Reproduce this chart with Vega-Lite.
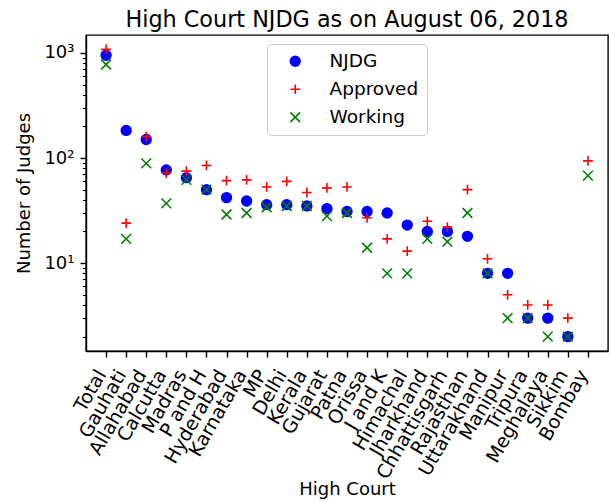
{
  "$schema": "https://vega.github.io/schema/vega-lite/v6.json",
  "width": 522,
  "height": 316,
  "autosize": "none",
  "padding": {"left": 86, "top": 35, "right": 2, "bottom": 151},
  "background": "white",
  "title": {"text": "High Court NJDG as on August 06, 2018", "fontSize": 22.3, "font": "DejaVu Sans", "fontWeight": "normal", "frame": "group", "offset": 4, "anchor": "middle", "color": "black"},
  "config": {
    "view": {"stroke": "black", "strokeWidth": 1.4},
    "font": "DejaVu Sans",
    "axis": {"grid": false, "domainColor": "black", "domainWidth": 1.4, "tickColor": "black", "tickWidth": 1.4, "labelFont": "DejaVu Sans", "labelFontSize": 18, "labelColor": "black", "titleFont": "DejaVu Sans", "titleFontSize": 18, "titleFontWeight": "normal", "titleColor": "black"}
  },
  "data": {"values": [
    {"court": "Total", "series": "NJDG", "judges": 950},
    {"court": "Gauhati", "series": "NJDG", "judges": 183},
    {"court": "Allahabad", "series": "NJDG", "judges": 150},
    {"court": "Calcutta", "series": "NJDG", "judges": 77},
    {"court": "Madras", "series": "NJDG", "judges": 65},
    {"court": "P and H", "series": "NJDG", "judges": 50},
    {"court": "Hyderabad", "series": "NJDG", "judges": 42},
    {"court": "Karnataka", "series": "NJDG", "judges": 39},
    {"court": "MP", "series": "NJDG", "judges": 36},
    {"court": "Delhi", "series": "NJDG", "judges": 36},
    {"court": "Kerala", "series": "NJDG", "judges": 35},
    {"court": "Gujarat", "series": "NJDG", "judges": 33},
    {"court": "Patna", "series": "NJDG", "judges": 31},
    {"court": "Orissa", "series": "NJDG", "judges": 31},
    {"court": "J and K", "series": "NJDG", "judges": 30},
    {"court": "Himachal", "series": "NJDG", "judges": 23},
    {"court": "Jharkhand", "series": "NJDG", "judges": 20},
    {"court": "Chhattisgarh", "series": "NJDG", "judges": 20},
    {"court": "Rajasthan", "series": "NJDG", "judges": 18},
    {"court": "Uttarakhand", "series": "NJDG", "judges": 8},
    {"court": "Manipur", "series": "NJDG", "judges": 8},
    {"court": "Tripura", "series": "NJDG", "judges": 3},
    {"court": "Meghalaya", "series": "NJDG", "judges": 3},
    {"court": "Sikkim", "series": "NJDG", "judges": 2},
    {"court": "Total", "series": "Approved", "judges": 1079},
    {"court": "Gauhati", "series": "Approved", "judges": 24},
    {"court": "Allahabad", "series": "Approved", "judges": 160},
    {"court": "Calcutta", "series": "Approved", "judges": 72},
    {"court": "Madras", "series": "Approved", "judges": 75},
    {"court": "P and H", "series": "Approved", "judges": 85},
    {"court": "Hyderabad", "series": "Approved", "judges": 61},
    {"court": "Karnataka", "series": "Approved", "judges": 62},
    {"court": "MP", "series": "Approved", "judges": 53},
    {"court": "Delhi", "series": "Approved", "judges": 60},
    {"court": "Kerala", "series": "Approved", "judges": 47},
    {"court": "Gujarat", "series": "Approved", "judges": 52},
    {"court": "Patna", "series": "Approved", "judges": 53},
    {"court": "Orissa", "series": "Approved", "judges": 27},
    {"court": "J and K", "series": "Approved", "judges": 17},
    {"court": "Himachal", "series": "Approved", "judges": 13},
    {"court": "Jharkhand", "series": "Approved", "judges": 25},
    {"court": "Chhattisgarh", "series": "Approved", "judges": 22},
    {"court": "Rajasthan", "series": "Approved", "judges": 50},
    {"court": "Uttarakhand", "series": "Approved", "judges": 11},
    {"court": "Manipur", "series": "Approved", "judges": 5},
    {"court": "Tripura", "series": "Approved", "judges": 4},
    {"court": "Meghalaya", "series": "Approved", "judges": 4},
    {"court": "Sikkim", "series": "Approved", "judges": 3},
    {"court": "Bombay", "series": "Approved", "judges": 94},
    {"court": "Total", "series": "Working", "judges": 775},
    {"court": "Gauhati", "series": "Working", "judges": 17},
    {"court": "Allahabad", "series": "Working", "judges": 89},
    {"court": "Calcutta", "series": "Working", "judges": 37},
    {"court": "Madras", "series": "Working", "judges": 62},
    {"court": "P and H", "series": "Working", "judges": 50},
    {"court": "Hyderabad", "series": "Working", "judges": 29},
    {"court": "Karnataka", "series": "Working", "judges": 30},
    {"court": "MP", "series": "Working", "judges": 34},
    {"court": "Delhi", "series": "Working", "judges": 35},
    {"court": "Kerala", "series": "Working", "judges": 35},
    {"court": "Gujarat", "series": "Working", "judges": 28},
    {"court": "Patna", "series": "Working", "judges": 30},
    {"court": "Orissa", "series": "Working", "judges": 14},
    {"court": "J and K", "series": "Working", "judges": 8},
    {"court": "Himachal", "series": "Working", "judges": 8},
    {"court": "Jharkhand", "series": "Working", "judges": 17},
    {"court": "Chhattisgarh", "series": "Working", "judges": 16},
    {"court": "Rajasthan", "series": "Working", "judges": 30},
    {"court": "Uttarakhand", "series": "Working", "judges": 8},
    {"court": "Manipur", "series": "Working", "judges": 3},
    {"court": "Tripura", "series": "Working", "judges": 3},
    {"court": "Meghalaya", "series": "Working", "judges": 2},
    {"court": "Sikkim", "series": "Working", "judges": 2},
    {"court": "Bombay", "series": "Working", "judges": 68}
  ]},
  "mark": {"type": "point", "size": 95, "strokeWidth": 1.6, "opacity": 1},
  "encoding": {
    "x": {
      "field": "court", "type": "nominal", "title": "High Court",
      "scale": {"type": "point", "padding": 1.2, "domain": ["Total", "Gauhati", "Allahabad", "Calcutta", "Madras", "P and H", "Hyderabad", "Karnataka", "MP", "Delhi", "Kerala", "Gujarat", "Patna", "Orissa", "J and K", "Himachal", "Jharkhand", "Chhattisgarh", "Rajasthan", "Uttarakhand", "Manipur", "Tripura", "Meghalaya", "Sikkim", "Bombay"]},
      "axis": {"labelAngle": -60, "labelAlign": "right", "labelBaseline": "middle", "labelPadding": 14, "labelOffset": -5, "labelFontSize": 19, "tickSize": 6, "labelOverlap": false, "labelBound": false, "titlePadding": -1}
    },
    "y": {
      "field": "judges", "type": "quantitative", "title": "Number of Judges",
      "scale": {"type": "log", "domain": [1.46, 1479], "nice": false},
      "axis": {
        "values": [2, 3, 4, 5, 6, 7, 8, 9, 10, 20, 30, 40, 50, 60, 70, 80, 90, 100, 200, 300, 400, 500, 600, 700, 800, 900, 1000],
        "tickSize": {"condition": {"test": "datum.value == 10 || datum.value == 100 || datum.value == 1000", "value": 6}, "value": 3.5},
        "tickWidth": {"condition": {"test": "datum.value == 10 || datum.value == 100 || datum.value == 1000", "value": 1.4}, "value": 1.1},
        "labelExpr": "datum.value == 10 ? '10¹' : datum.value == 100 ? '10²' : datum.value == 1000 ? '10³' : ''",
        "labelPadding": 6, "labelOverlap": false, "labelBound": false, "titlePadding": 10
      }
    },
    "shape": {
      "field": "series", "type": "nominal",
      "scale": {"domain": ["NJDG", "Approved", "Working"], "range": ["circle", "M-1,0H1M0,-1V1", "M-1,-1L1,1M-1,1L1,-1"]},
      "legend": {"title": null, "orient": "none", "legendX": 181, "legendY": 9, "padding": 8, "symbolOffset": 11, "labelOffset": 25, "rowPadding": 9, "symbolSize": 95, "symbolStrokeWidth": 1.6, "labelFontSize": 18.5, "labelFont": "DejaVu Sans", "labelColor": "black", "strokeColor": "#cccccc", "cornerRadius": 4, "fillColor": "rgba(255,255,255,0.8)"}
    },
    "fill": {
      "field": "series", "type": "nominal",
      "scale": {"domain": ["NJDG", "Approved", "Working"], "range": ["#0000ff", "transparent", "transparent"]},
      "legend": {"title": null, "orient": "none", "legendX": 181, "legendY": 9, "padding": 8, "symbolOffset": 11, "labelOffset": 25, "rowPadding": 9, "symbolSize": 95, "symbolStrokeWidth": 1.6, "labelFontSize": 18.5, "labelFont": "DejaVu Sans", "labelColor": "black", "strokeColor": "#cccccc", "cornerRadius": 4, "fillColor": "rgba(255,255,255,0.8)"}
    },
    "stroke": {
      "field": "series", "type": "nominal",
      "scale": {"domain": ["NJDG", "Approved", "Working"], "range": ["#0000ff", "#ff0000", "#008000"]},
      "legend": {"title": null, "orient": "none", "legendX": 181, "legendY": 9, "padding": 8, "symbolOffset": 11, "labelOffset": 25, "rowPadding": 9, "symbolSize": 95, "symbolStrokeWidth": 1.6, "labelFontSize": 18.5, "labelFont": "DejaVu Sans", "labelColor": "black", "strokeColor": "#cccccc", "cornerRadius": 4, "fillColor": "rgba(255,255,255,0.8)"}
    }
  }
}
